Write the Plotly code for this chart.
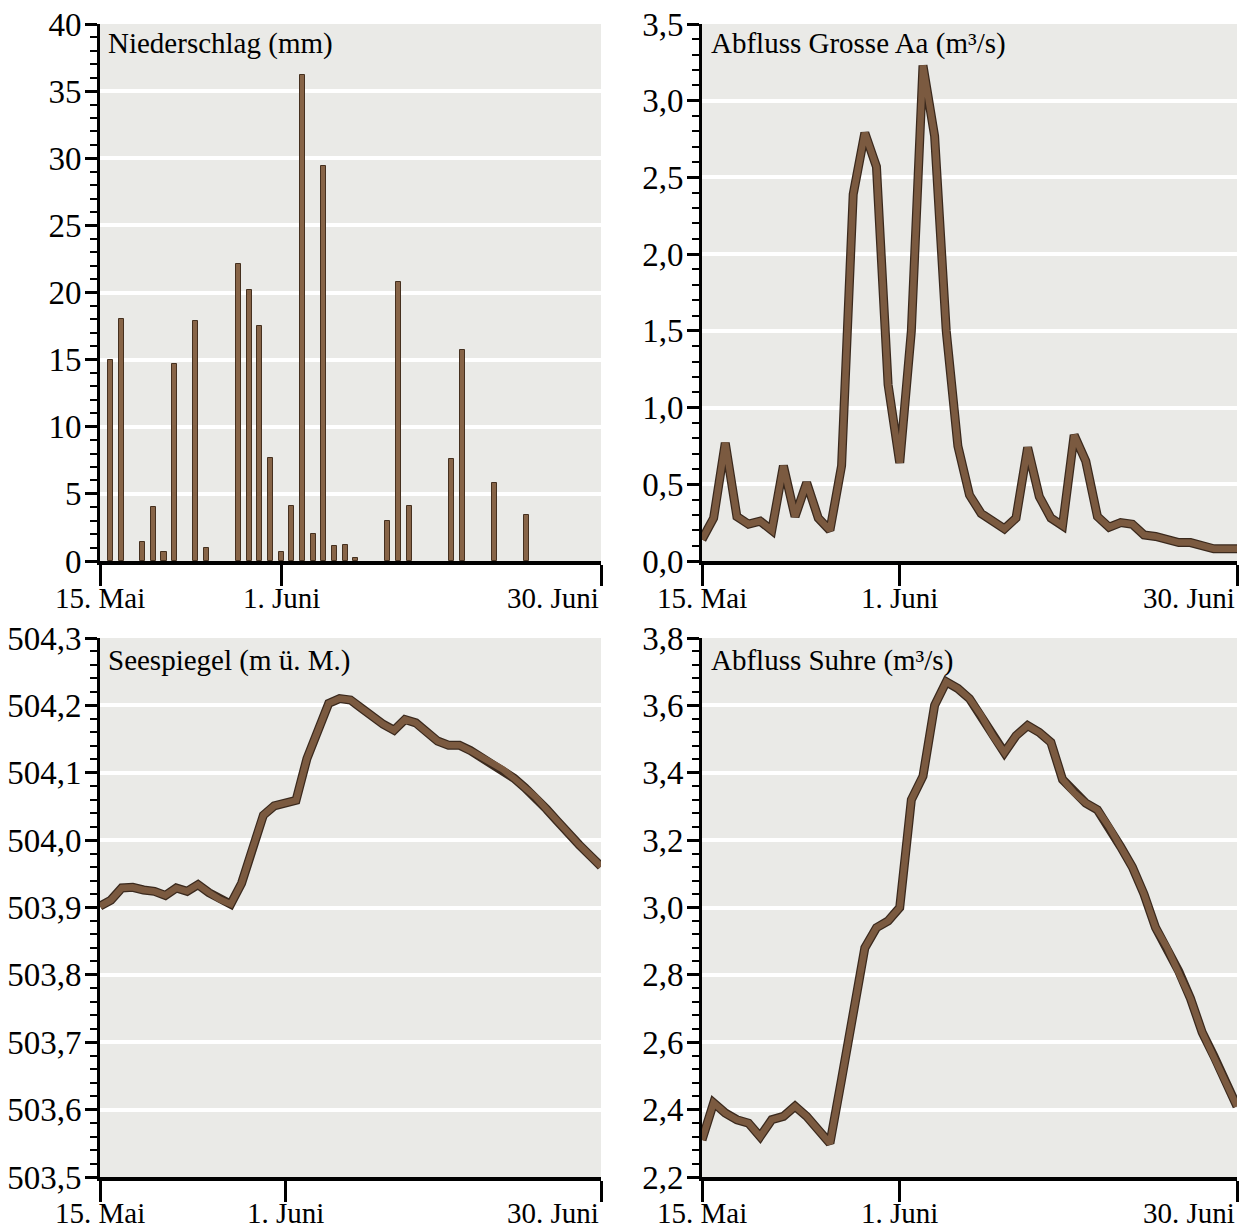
import plotly.graph_objects as go

# ---------------- data ----------------
bar_days = [1, 2, 4, 5, 6, 7, 9, 10, 13, 14, 15, 16, 17, 18, 19, 20, 21, 22, 23, 24,
            27, 28, 29, 33, 34, 37, 40]
niederschlag = [15.0, 18.0, 1.4, 4.0, 0.7, 14.7, 17.9, 1.0, 22.1, 20.2, 17.5, 7.7, 0.7,
                4.1, 36.2, 2.0, 29.4, 1.1, 1.2, 0.2, 3.0, 20.8, 4.1, 7.6, 15.7, 5.8, 3.4]

days = list(range(47))  # 0 = 15. Mai ... 46 = 30. Juni

abfluss_aa = [0.14, 0.28, 0.77, 0.29, 0.24, 0.26, 0.20, 0.62, 0.29, 0.51, 0.28, 0.20, 0.62,
              2.39, 2.79, 2.57, 1.15, 0.64, 1.50, 3.23, 2.77, 1.50, 0.75,
              0.43, 0.31, 0.26, 0.21, 0.28, 0.74, 0.42, 0.28, 0.23, 0.82, 0.65,
              0.29, 0.22, 0.25, 0.24, 0.17, 0.16, 0.14, 0.12, 0.12, 0.10, 0.08, 0.08, 0.08]

seespiegel = [503.902, 503.911, 503.929, 503.930, 503.926, 503.924, 503.918, 503.929,
              503.924, 503.934, 503.922, 503.912, 503.905, 503.936, 503.987, 504.037,
              504.051, 504.054, 504.059, 504.121, 504.161, 504.203, 504.210, 504.208,
              504.196, 504.183, 504.172, 504.163, 504.179, 504.174, 504.160, 504.147,
              504.141, 504.141, 504.133, 504.123, 504.114, 504.105, 504.092, 504.078,
              504.064, 504.046, 504.028, 504.009, 503.993, 503.977, 503.961]

abfluss_suhre = [2.31, 2.42, 2.39, 2.37, 2.36, 2.32, 2.37, 2.38, 2.41, 2.38, 2.34, 2.30,
                 2.49, 2.69, 2.88, 2.94, 2.96, 3.00, 3.32, 3.39, 3.60, 3.67, 3.65,
                 3.62, 3.57, 3.51, 3.46, 3.51, 3.54, 3.52, 3.49,
                 3.38, 3.34, 3.31, 3.29, 3.24, 3.18, 3.12, 3.04, 2.94, 2.88, 2.81,
                 2.73, 2.63, 2.56, 2.48, 2.41]

titles = ["Niederschlag (mm)", "Abfluss Grosse Aa (m³/s)",
          "Seespiegel (m ü. M.)", "Abfluss Suhre (m³/s)"]
xtick_labels = ["15. Mai", "1. Juni", "30. Juni"]

# ---------------- style ----------------
W, H = 1245, 1230
FONT = "Liberation Serif"
BROWN = "#7b5a40"
DARK = "#3a291d"
BG = "#eaeae7"

def px(x):
    return x / W

def py(y):
    return 1 - y / H

fig = go.Figure()

# precipitation bars
fig.add_trace(go.Bar(x=bar_days, y=niederschlag, width=0.48,
                     marker=dict(color="#876447", line=dict(color="#45301f", width=1)),
                     xaxis="x", yaxis="y", showlegend=False))

def add_line(x, y, xa, ya):
    fig.add_trace(go.Scatter(x=x, y=y, mode="lines", xaxis=xa, yaxis=ya,
                             line=dict(color=DARK, width=9), showlegend=False))
    fig.add_trace(go.Scatter(x=x, y=y, mode="lines", xaxis=xa, yaxis=ya,
                             line=dict(color=BROWN, width=6.5), showlegend=False))

add_line(days, abfluss_aa, "x2", "y2")
add_line(days, seespiegel, "x3", "y3")
add_line(days, abfluss_suhre, "x4", "y4")

left_dom = [px(100), px(601)]
right_dom = [px(702), px(1237)]
top_dom = [py(561), py(24)]
bot_dom = [py(1177), py(638)]

def xaxis(domain, anchor, end):
    return dict(domain=domain, anchor=anchor, range=[0, end],
                tickvals=[0, 17, end], showticklabels=False,
                ticks="outside", ticklen=21, tickwidth=2.5, tickcolor="black",
                showline=True, linecolor="black", linewidth=4,
                showgrid=False, zeroline=False, fixedrange=True, automargin=False)

def yaxis(domain, anchor, rng, dtick, mdtick, fmt):
    return dict(domain=domain, anchor=anchor, range=rng,
                tick0=rng[0], dtick=dtick, tickformat=fmt,
                ticks="outside", ticklen=12, tickwidth=2.5, tickcolor="black",
                ticklabelstandoff=-3,
                minor=dict(tick0=rng[0], dtick=mdtick, ticks="outside", ticklen=7,
                           tickwidth=1.5, tickcolor="black", showgrid=False),
                showline=True, linecolor="black", linewidth=3,
                showgrid=True, gridcolor="white", gridwidth=4,
                zeroline=False, fixedrange=True, automargin=False,
                tickfont=dict(family=FONT, size=33, color="black"))

fig.update_layout(
    width=W, height=H,
    margin=dict(l=0, r=0, t=0, b=0, autoexpand=False),
    paper_bgcolor="white", plot_bgcolor=BG,
    separators=", ",
    font=dict(family=FONT, size=29, color="black"),
    bargap=0,
    xaxis=xaxis(left_dom, "y", 47),
    yaxis=yaxis(top_dom, "x", [0, 40], 5, 1, "d"),
    xaxis2=xaxis(right_dom, "y2", 46),
    yaxis2=yaxis(top_dom, "x2", [0, 3.5], 0.5, 0.1, ".1f"),
    xaxis3=xaxis(left_dom, "y3", 46),
    yaxis3=yaxis(bot_dom, "x3", [503.5, 504.3], 0.1, 0.02, ".1f"),
    xaxis4=xaxis(right_dom, "y4", 46),
    yaxis4=yaxis(bot_dom, "x4", [2.2, 3.8], 0.2, 0.04, ".1f"),
)

annotations = []
# panel titles
for text, xx, yy in zip(titles, [106, 709, 106, 709], [44, 44, 660, 660]):
    annotations.append(dict(text=text, x=px(xx), y=py(yy), xref="paper", yref="paper",
                            xanchor="left", yanchor="middle", showarrow=False,
                            font=dict(family=FONT, size=29, color="black")))
# x tick labels
for xa, end, yy in [("x", 47, 598), ("x2", 46, 598), ("x3", 46, 1213), ("x4", 46, 1213)]:
    for lab, val, anc in zip(xtick_labels, [0, 17, end], ["center", "center", "right"]):
        annotations.append(dict(text=lab, x=val, y=py(yy), xref=xa, yref="paper",
                                xanchor=anc, yanchor="middle", showarrow=False,
                                font=dict(family=FONT, size=29, color="black")))
fig.update_layout(annotations=annotations)

fig.write_html("out.html")
